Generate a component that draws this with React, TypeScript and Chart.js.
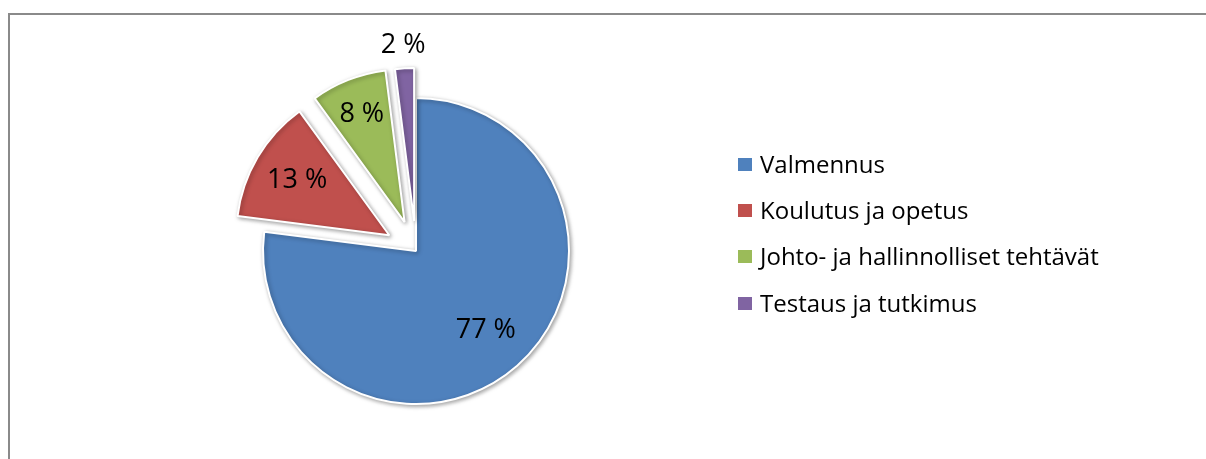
import React, { useEffect, useRef } from 'react';
import { Chart, registerables } from 'chart.js';

Chart.register(...registerables);

const categories = [
  'Valmennus',
  'Koulutus ja opetus',
  'Johto- ja hallinnolliset tehtävät',
  'Testaus ja tutkimus',
];
const shares = [77, 13, 8, 2];
const percentLabels = ['77 %', '13 %', '8 %', '2 %'];
const colors = ['#4F81BD', '#C0504D', '#9BBB59', '#8064A2'];
// explosion distance of each slice (px) and label distance (fraction of radius)
const explode = [0, 31, 31, 30];
const labelRadius = [0.69, 0.7, 0.76, 1.15];

const FONT = '"Open Sans", Lato, sans-serif';

const explodePlugin = {
  id: 'explodePie',
  beforeDatasetsDraw(chart: any) {
    const ctx = chart.ctx;
    const meta = chart.getDatasetMeta(0);
    ctx.save();
    ctx.shadowColor = 'rgba(0,0,0,0.35)';
    ctx.shadowBlur = 4;
    ctx.shadowOffsetX = 1.5;
    ctx.shadowOffsetY = 1.5;
    meta.data.forEach((arc: any, i: number) => {
      const { startAngle, endAngle } = arc.getProps(['startAngle', 'endAngle'], true);
      const mid = (startAngle + endAngle) / 2;
      ctx.save();
      ctx.translate(Math.cos(mid) * explode[i], Math.sin(mid) * explode[i]);
      arc.draw(ctx);
      ctx.restore();
    });
    ctx.restore();
    return false;
  },
  afterDraw(chart: any) {
    const ctx = chart.ctx;
    const meta = chart.getDatasetMeta(0);
    ctx.save();
    ctx.fillStyle = '#000';
    ctx.font = `27px ${FONT}`;
    ctx.textAlign = 'center';
    ctx.textBaseline = 'middle';
    meta.data.forEach((arc: any, i: number) => {
      const { x, y, startAngle, endAngle, outerRadius } = arc.getProps(
        ['x', 'y', 'startAngle', 'endAngle', 'outerRadius'],
        true
      );
      const mid = (startAngle + endAngle) / 2;
      const d = explode[i] + outerRadius * labelRadius[i];
      ctx.fillText(percentLabels[i], x + Math.cos(mid) * d, y + Math.sin(mid) * d);
    });
    ctx.restore();
  },
};

export default function App() {
  const canvasRef = useRef<HTMLCanvasElement | null>(null);

  useEffect(() => {
    if (!canvasRef.current) return;
    const chart = new Chart(canvasRef.current, {
      type: 'pie',
      data: {
        labels: categories,
        datasets: [
          {
            data: shares,
            backgroundColor: colors,
            borderColor: '#ffffff',
            borderWidth: 2,
            hoverOffset: 0,
          } as any,
        ],
      },
      options: {
        responsive: false,
        animation: false,
        radius: 153,
        layout: { padding: { left: 216, top: 51, right: 590, bottom: 8 } },
        plugins: {
          legend: { display: false },
          tooltip: { enabled: false },
        },
        events: [],
      } as any,
      plugins: [explodePlugin],
    });
    return () => chart.destroy();
  }, []);

  return (
    <div
      style={{
        position: 'fixed',
        left: 0,
        top: 0,
        width: 1206,
        height: 459,
        overflow: 'hidden',
        background: '#fff',
      }}
    >
      <div
        style={{
          position: 'absolute',
          left: 8,
          top: 13,
          width: 1210,
          height: 470,
          borderLeft: '2px solid #8a8a8a',
          borderTop: '2px solid #8a8a8a',
          boxSizing: 'border-box',
        }}
      />
      <canvas
        ref={canvasRef}
        width={1206}
        height={459}
        style={{ position: 'absolute', left: 0, top: 0, width: 1206, height: 459 }}
      />
      <div
        style={{
          position: 'absolute',
          left: 738,
          top: 140,
          fontFamily: FONT,
          fontSize: 24,
          color: '#000',
        }}
      >
        {categories.map((c, i) => (
          <div
            key={c}
            style={{ display: 'flex', alignItems: 'center', height: 46.3, whiteSpace: 'nowrap' }}
          >
            <span
              style={{
                display: 'inline-block',
                width: 14,
                height: 13,
                background: colors[i],
                marginRight: 8,
                marginTop: 2,
              }}
            />
            <span>{c}</span>
          </div>
        ))}
      </div>
    </div>
  );
}
